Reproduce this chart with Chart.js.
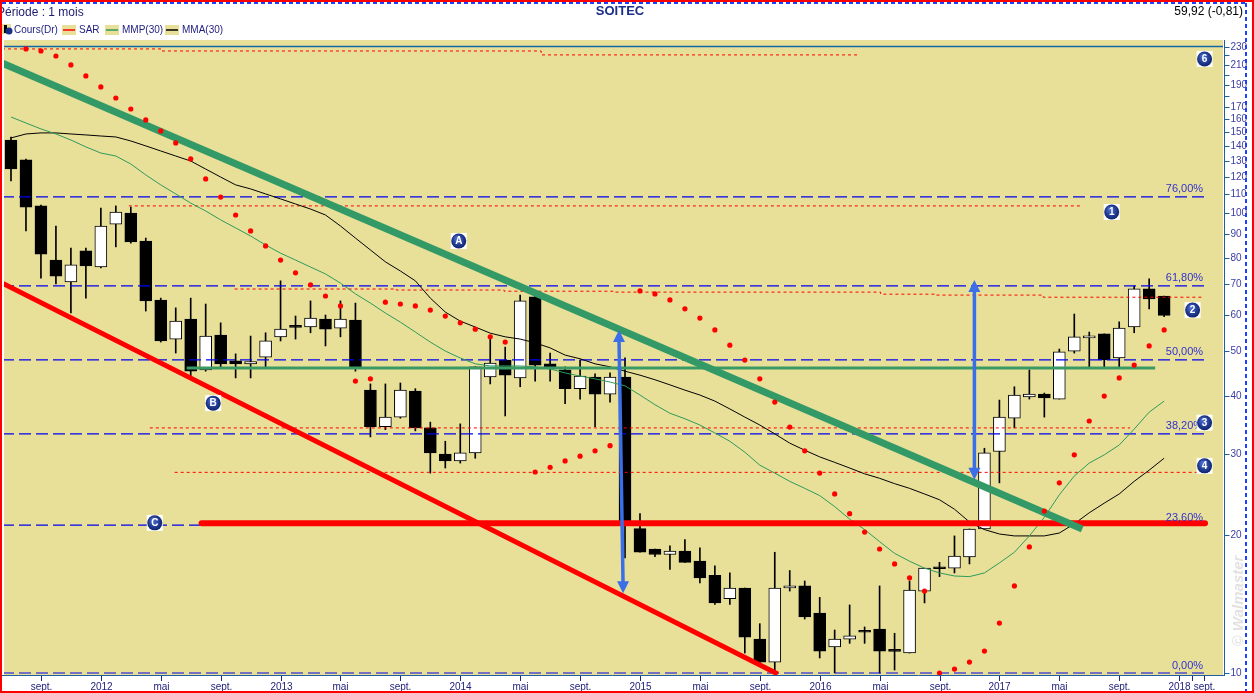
<!DOCTYPE html>
<html>
<head>
<meta charset="utf-8">
<title>SOITEC</title>
<script src="https://cdn.jsdelivr.net/npm/chart.js@4.4.0/dist/chart.umd.min.js"></script>
<style>
  html, body { margin: 0; padding: 0; background: #fff; overflow: hidden; }
  canvas { display: block; }
</style>
</head>
<body>
<canvas id="myChart" width="1254" height="693" style="width:1254px;height:693px"></canvas>
<script>
// monthly candles, July 2011 -> December 2017
const months = [
    '2011-07','2011-08','2011-09','2011-10','2011-11','2011-12',
    '2012-01','2012-02','2012-03','2012-04','2012-05','2012-06','2012-07','2012-08','2012-09','2012-10','2012-11','2012-12',
    '2013-01','2013-02','2013-03','2013-04','2013-05','2013-06','2013-07','2013-08','2013-09','2013-10','2013-11','2013-12',
    '2014-01','2014-02','2014-03','2014-04','2014-05','2014-06','2014-07','2014-08','2014-09','2014-10','2014-11','2014-12',
    '2015-01','2015-02','2015-03','2015-04','2015-05','2015-06','2015-07','2015-08','2015-09','2015-10','2015-11','2015-12',
    '2016-01','2016-02','2016-03','2016-04','2016-05','2016-06','2016-07','2016-08','2016-09','2016-10','2016-11','2016-12',
    '2017-01','2017-02','2017-03','2017-04','2017-05','2017-06','2017-07','2017-08','2017-09','2017-10','2017-11','2017-12'
];
const openP = [144.1,130.4,103.6,79.0,70.8,82.7,76.3,94.6,100.0,86.9,
    64.7,53.2,58.8,45.6,54.3,47.7,47.0,48.6,53.8,56.6,
    56.5,58.8,56.2,58.5,41.2,34.3,36.0,41.0,34.1,29.9,
    28.9,30.1,44.0,47.9,43.8,65.7,47.0,45.6,41.5,44.0,
    40.4,44.0,20.6,18.6,18.1,18.4,17.5,16.3,14.5,15.3,
    11.85,10.56,15.3,15.46,13.5,11.39,11.85,12.3,12.46,11.18,
    11.05,15.07,16.95,16.9,17.87,20.56,30.3,35.8,39.8,40.4,
    39.4,50.1,53.5,54.6,48.4,56.5,68.4,66.0];
const highP = [146.2,131.0,104.0,93.7,83.9,83.9,102.5,103.6,103.0,88.2,
    65.3,62.2,65.3,63.4,57.7,49.4,54.0,54.9,71.2,59.7,
    64.4,60.0,64.4,63.7,42.5,42.5,42.7,41.5,35.1,31.9,
    34.8,46.3,53.8,51.1,66.3,66.0,49.6,46.3,47.9,44.7,
    44.9,48.4,22.2,18.6,18.9,19.5,18.7,17.1,16.5,15.3,
    12.8,18.3,16.7,15.85,14.6,12.4,14.06,12.59,15.46,12.2,
    15.85,16.9,17.4,19.86,20.56,30.8,39.2,41.9,45.6,40.6,
    50.6,60.3,55.1,54.6,58.0,69.4,71.9,66.0];
const lowP = [117.4,91.4,72.2,70.1,60.6,65.3,76.0,84.4,86.0,61.2,
    52.4,49.6,43.8,45.3,46.3,43.8,43.8,46.3,52.7,53.2,
    54.9,51.4,53.8,45.3,32.6,33.8,35.8,33.6,27.2,27.9,
    28.6,29.3,42.5,36.2,41.9,43.1,43.1,38.5,39.4,34.3,
    38.8,17.8,18.3,17.9,16.8,17.4,15.7,14.1,14.1,11.05,
    10.5,10.0,15.07,13.1,10.78,10.0,11.6,11.6,10.0,10.15,
    11.05,14.2,16.2,16.5,17.26,20.56,25.9,34.1,39.4,36.0,
    39.4,49.6,46.0,46.0,46.0,54.9,61.9,59.5];
const closeP = [124.6,103.0,81.4,72.9,77.1,76.7,93.7,100.5,86.5,64.4,
    52.7,58.2,45.3,54.0,47.0,47.0,47.5,52.7,55.9,56.4,
    59.1,55.9,58.8,46.0,34.3,36.0,41.2,34.1,30.1,28.9,
    30.1,46.3,47.2,44.4,64.4,46.7,46.0,41.5,44.2,40.4,
    44.0,21.3,18.3,18.1,18.4,17.4,16.1,14.2,15.3,11.97,
    10.56,15.3,15.46,13.24,11.16,11.85,12.04,12.26,11.16,11.14,
    15.14,16.9,16.85,17.96,20.56,30.1,36.0,40.2,40.4,39.6,
    49.9,53.8,53.8,47.9,56.2,68.4,65.0,59.92];

// indicators
const sarValues = [null,227.3,225.0,219.4,209.8,198.6,187.9,177.8,168.3,159.3,
    150.8,142.0,131.1,118.6,108.3,99.0,91.4,84.8,79.0,74.1,
    69.8,66.0,62.8,43.1,43.6,64.0,63.4,62.8,61.5,59.7,
    57.7,55.9,53.8,52.4,null,27.35,28.0,28.9,29.6,30.4,
    31.2,null,67.7,66.7,64.7,61.9,59.1,55.7,51.6,47.9,
    43.6,38.8,34.25,30.4,27.2,24.5,22.2,20.25,18.6,17.26,
    16.1,15.07,10.0,10.2,10.56,11.16,12.84,15.46,18.8,22.5,
    25.9,29.8,35.3,40.0,43.8,46.7,51.4,55.7];
const mmp30 = [161.7,156.9,152.3,148.5,144.1,139.2,135.0,133.0,127.8,121.0,
    115.1,110.0,105.1,101.0,96.6,92.8,89.1,85.2,81.8,79.0,
    76.3,73.7,70.4,66.7,63.7,60.6,57.9,55.1,52.4,50.1,
    48.4,47.0,46.5,46.5,46.5,46.3,45.8,44.9,44.2,43.6,
    42.9,42.1,40.2,38.3,36.7,35.7,34.6,33.25,31.9,30.2,
    28.3,27.2,26.1,25.2,24.3,23.0,21.6,20.5,19.3,18.2,
    17.5,16.9,16.5,16.25,16.2,16.5,17.35,18.3,19.86,21.8,
    24.4,26.8,28.6,29.8,31.3,33.9,36.9,39.0];
const mma30 = [145.6,148.5,149.3,149.3,148.5,147.8,147.0,146.3,143.4,139.9,
    136.4,133.0,129.7,124.6,119.7,115.1,112.8,110.0,107.3,104.6,
    102.0,99.0,93.7,88.2,83.1,78.3,74.8,71.2,65.3,60.9,
    58.2,56.5,54.8,53.8,53.2,52.2,50.9,49.1,48.2,47.0,
    46.3,45.3,44.4,43.4,42.3,41.2,40.2,39.0,37.5,36.0,
    34.6,33.1,31.6,30.5,29.5,28.7,27.9,27.1,26.5,25.8,
    25.2,24.5,23.8,22.7,21.3,20.5,20.05,19.86,19.86,19.86,
    20.15,21.1,22.3,23.4,24.5,26.1,27.6,29.3];

// axes
const xTickPos = [2,6,10,14,18,22,26,30,34,38,42,46,50,54,58,62,66,70,74,78,78.87,79.67];
const xTickLabels = ['sept.','2012','mai','sept.','2013','mai','sept.','2014','mai','sept.',
    '2015','mai','sept.','2016','mai','sept.','2017','mai','sept.','2018','','sept.'];
const yTickValues = [10,20,30,40,50,60,70,80,90,100,110,120,130,140,150,160,170,180,190,200,210,220,230];
const yTickLabelled = [10,20,30,40,50,60,70,80,90,100,110,120,130,140,150,160,170,190,210,230];

// drawings (x in month index, y in price)
const fibLevels = [10.0, 20.96, 33.1, 47.96, 69.4, 108.4];
const fibLabels = ['0,00%', '23,60%', '38,20%', '50,00%', '61,80%', '76,00%'];
const fibSpan = [-0.6, 79.73];
const topLevel = 230;
const greenTrend = [[-0.6, 211.9], [71.53, 20.56]];
const redTrend = [[-0.6, 70.45], [51.2, 9.95]];
const redSupport = [[12.73, 21.15], [79.73, 21.15]];
const greenSupport = [[11.73, 46.0], [76.4, 46.0]];
const redDotted = [
    [[-0.6, 227.3], [10.07, 227.3], [10.07, 225.0], [35.4, 225.0], [35.4, 220.6], [56.5, 220.6]],
    [[7.87, 103.6], [71.4, 103.6]],
    [[14.93, 68.35], [25.73, 68.35], [25.73, 68.0], [32.93, 68.0], [32.93, 67.6], [40.2, 67.6],
     [40.2, 67.3], [58.07, 67.3], [58.07, 66.6], [61.73, 66.6], [61.73, 66.3], [68.93, 66.3], [68.93, 65.6], [79.53, 65.6]],
    [[9.27, 34.1], [74.73, 34.1]],
    [[10.93, 27.3], [79.2, 27.3]]
];
const arrows = [[40.6, 55.7, 40.87, 14.9], [64.33, 71.5, 64.33, 26.3]];
const markers = [['6', 79.7, 216.2], ['1', 73.5, 100.5], ['A', 29.9, 86.9], ['2', 78.9, 61.5],
    ['B', 13.5, 38.6], ['3', 79.7, 35.0], ['4', 79.7, 28.2], ['C', 9.6, 21.2]];

const pts = arr => arr.map(p => ({ x: p[0], y: p[1] }));
const series = arr => arr.map((v, i) => ({ x: i, y: v })).filter(p => p.y !== null);

const bodyData = months.map((m, i) => ({ x: i, y: [openP[i], closeP[i]] }));
const wickData = months.map((m, i) => ({ x: i, y: [lowP[i], highP[i]] }));
const bodyColors = months.map((m, i) => closeP[i] > openP[i] ? '#ffffff' : '#000000');

function lineSet(data, color, width, dash, order, extra) {
    return Object.assign({
        type: 'line', data: data, borderColor: color, borderWidth: width,
        borderDash: dash || [], pointRadius: 0, fill: false, order: order
    }, extra || {});
}

const datasets = [];
datasets.push({
    type: 'scatter', data: series(sarValues), showLine: false,
    pointStyle: 'circle', pointRadius: 2.6, pointBackgroundColor: '#ff0000',
    pointBorderWidth: 0, order: 1
});
datasets.push(lineSet(pts(greenTrend), '#339966', 7, null, 2));
datasets.push(lineSet(pts(redTrend), '#ff0000', 5, null, 2));
datasets.push(lineSet(pts(redSupport), '#ff0000', 6, null, 3, { borderCapStyle: 'round' }));
datasets.push(lineSet(pts(greenSupport), '#3a9a64', 3, null, 4));
datasets.push(lineSet(series(mmp30), '#2f9a5c', 1, null, 5));
datasets.push(lineSet(series(mma30), '#000000', 1, null, 5));
fibLevels.forEach(v => {
    datasets.push(lineSet([{ x: fibSpan[0], y: v }, { x: fibSpan[1], y: v }], '#0000ee', 1.2, [12, 5], 6));
});
datasets.push(lineSet([{ x: -0.6, y: topLevel }, { x: 81, y: topLevel }], '#1467a6', 1.5, null, 6));
redDotted.forEach(seg => {
    datasets.push(lineSet(pts(seg), '#ff0000', 1, [3, 3], 7));
});
datasets.push({
    type: 'bar', data: bodyData, backgroundColor: bodyColors, borderColor: '#000000',
    borderWidth: 1, borderSkipped: false, barThickness: 12, minBarLength: 2,
    grouped: false, order: 8
});
datasets.push({
    type: 'bar', data: wickData, backgroundColor: '#000000', barThickness: 1,
    grouped: false, order: 9
});

function badge(ctx, cx, cy, txt) {
    ctx.fillStyle = '#ffffff';
    ctx.fillRect(cx - 8, cy - 8, 16, 16);
    const g = ctx.createRadialGradient(cx - 2, cy - 3, 1, cx, cy, 8);
    g.addColorStop(0, '#4a6cd0');
    g.addColorStop(1, '#0a1f6a');
    ctx.fillStyle = g;
    ctx.beginPath();
    ctx.arc(cx, cy, 7.5, 0, Math.PI * 2);
    ctx.fill();
    ctx.fillStyle = '#ffffff';
    ctx.font = 'bold 10px Arial';
    ctx.textAlign = 'center';
    ctx.textBaseline = 'middle';
    ctx.fillText(txt, cx, cy + 0.5);
}

function arrow(ctx, x1, y1, x2, y2) {
    ctx.strokeStyle = '#3b6fe8';
    ctx.fillStyle = '#3b6fe8';
    ctx.lineWidth = 3.5;
    ctx.beginPath();
    ctx.moveTo(x1, y1 + 10);
    ctx.lineTo(x2, y2 - 10);
    ctx.stroke();
    ctx.beginPath();
    ctx.moveTo(x1, y1);
    ctx.lineTo(x1 - 6, y1 + 12);
    ctx.lineTo(x1 + 6, y1 + 12);
    ctx.closePath();
    ctx.fill();
    ctx.beginPath();
    ctx.moveTo(x2, y2);
    ctx.lineTo(x2 - 6, y2 - 12);
    ctx.lineTo(x2 + 6, y2 - 12);
    ctx.closePath();
    ctx.fill();
}

const decor = {
    id: 'decor',
    beforeDraw(chart) {
        const { ctx, chartArea: a } = chart;
        ctx.save();
        ctx.fillStyle = '#ffffff';
        ctx.fillRect(0, 0, chart.width, chart.height);
        ctx.fillStyle = '#e8e098';
        ctx.fillRect(a.left, a.top, a.right - a.left, a.bottom - a.top);
        ctx.restore();
    },
    afterDatasetsDraw(chart) {
        const { ctx } = chart;
        const xs = chart.scales.x, ys = chart.scales.y;
        ctx.save();
        arrows.forEach(a => arrow(ctx, xs.getPixelForValue(a[0]), ys.getPixelForValue(a[1]),
            xs.getPixelForValue(a[2]), ys.getPixelForValue(a[3])));
        ctx.font = '11px Arial';
        ctx.fillStyle = '#3030d0';
        ctx.textAlign = 'right';
        ctx.textBaseline = 'bottom';
        fibLevels.forEach((v, i) => {
            ctx.fillText(fibLabels[i], xs.getPixelForValue(79.6), ys.getPixelForValue(v) - 2);
        });
        markers.forEach(m => badge(ctx, xs.getPixelForValue(m[1]), ys.getPixelForValue(m[2]), m[0]));
        ctx.restore();
    },
    afterDraw(chart) {
        const { ctx, chartArea: a } = chart;
        const xs = chart.scales.x, ys = chart.scales.y;
        const W = chart.width, H = chart.height;
        ctx.save();
        // right axis
        const ax = a.right + 1.5;
        ctx.strokeStyle = '#1f5f9f';
        ctx.lineWidth = 1;
        ctx.beginPath();
        ctx.moveTo(ax, a.top);
        ctx.lineTo(ax, a.bottom + 1);
        ctx.moveTo(0, a.bottom + 0.5);
        ctx.lineTo(ax, a.bottom + 0.5);
        ctx.stroke();
        ctx.font = '10px Arial';
        ctx.textAlign = 'left';
        ctx.textBaseline = 'middle';
        yTickValues.forEach(v => {
            const py = Math.round(ys.getPixelForValue(v)) + 0.5;
            ctx.strokeStyle = '#1f5f9f';
            ctx.beginPath();
            ctx.moveTo(ax, py);
            ctx.lineTo(ax + 5, py);
            ctx.stroke();
            if (yTickLabelled.includes(v)) {
                ctx.fillStyle = '#3c3ca0';
                ctx.fillText(String(v), ax + 6, py);
            }
        });
        // bottom axis
        ctx.textAlign = 'center';
        ctx.textBaseline = 'middle';
        xTickPos.forEach((p, i) => {
            const px = Math.round(xs.getPixelForValue(p)) + 0.5;
            ctx.strokeStyle = '#1a2a80';
            ctx.beginPath();
            ctx.moveTo(px, a.bottom + 1);
            ctx.lineTo(px, a.bottom + 6);
            ctx.stroke();
            ctx.fillStyle = '#23237a';
            ctx.fillText(xTickLabels[i], px, a.bottom + 12);
        });
        // header
        ctx.textBaseline = 'middle';
        ctx.textAlign = 'left';
        ctx.font = '12px Arial';
        ctx.fillStyle = '#1c1c70';
        ctx.fillText('Période : 1 mois', -3, 13);
        ctx.textAlign = 'center';
        ctx.font = 'bold 13px Arial';
        ctx.fillStyle = '#1a2f8a';
        ctx.fillText('SOITEC', 620, 11);
        ctx.textAlign = 'right';
        ctx.font = '12px Arial';
        ctx.fillStyle = '#000000';
        ctx.fillText('59,92 (-0,81)', 1243, 12);
        // legend row
        ctx.textAlign = 'left';
        ctx.font = '10px Arial';
        ctx.fillStyle = '#e8e098';
        ctx.fillRect(1, 24, 10, 10);
        ctx.fillStyle = '#000000';
        ctx.fillRect(4, 25, 3, 8);
        ctx.fillStyle = '#1a2f8a';
        ctx.beginPath();
        ctx.arc(9, 31, 3.5, 0, Math.PI * 2);
        ctx.fill();
        ctx.fillStyle = '#1c1c80';
        ctx.fillText('Cours(Dr)', 14, 30);
        const legendItems = [['SAR', '#ff0000', 62], ['MMP(30)', '#2f9a5c', 105], ['MMA(30)', '#000000', 165]];
        legendItems.forEach(it => {
            ctx.fillStyle = '#e8e098';
            ctx.fillRect(it[2], 25, 14, 10);
            ctx.strokeStyle = it[1];
            ctx.lineWidth = 1.5;
            ctx.beginPath();
            ctx.moveTo(it[2] + 1, 30);
            ctx.lineTo(it[2] + 13, 30);
            ctx.stroke();
            ctx.fillStyle = '#1c1c80';
            ctx.fillText(it[0], it[2] + 17, 30);
        });
        // watermark
        ctx.save();
        ctx.translate(1239, 601);
        ctx.rotate(-Math.PI / 2);
        ctx.font = 'italic bold 15px Arial';
        ctx.fillStyle = 'rgba(190,190,190,0.45)';
        ctx.textAlign = 'center';
        ctx.fillText('© Walmaster', 0, 0);
        ctx.restore();
        // frame
        ctx.setLineDash([]);
        ctx.strokeStyle = '#ff0000';
        ctx.lineWidth = 2;
        ctx.strokeRect(1, 1, W - 2, H - 2);
        ctx.strokeStyle = '#1f3fff';
        ctx.lineWidth = 2;
        ctx.setLineDash([4, 3]);
        ctx.beginPath();
        ctx.moveTo(2, 3);
        ctx.lineTo(W - 8, 3);
        ctx.moveTo(W - 8, 3);
        ctx.lineTo(W - 8, H - 2);
        ctx.stroke();
        ctx.restore();
    }
};

const config = {
    type: 'bar',
    data: { datasets: datasets },
    options: {
        responsive: false,
        animation: false,
        events: [],
        layout: { padding: { left: 2, top: 40, right: 31, bottom: 18 } },
        plugins: { legend: { display: false }, tooltip: { enabled: false } },
        scales: {
            x: { type: 'linear', min: -0.467, max: 80.93, offset: false, display: false },
            y: { type: 'logarithmic', min: 9.9, max: 237.7, display: false }
        }
    },
    plugins: [decor]
};

const myChart = new Chart(document.getElementById('myChart'), config);
</script>
</body>
</html>
